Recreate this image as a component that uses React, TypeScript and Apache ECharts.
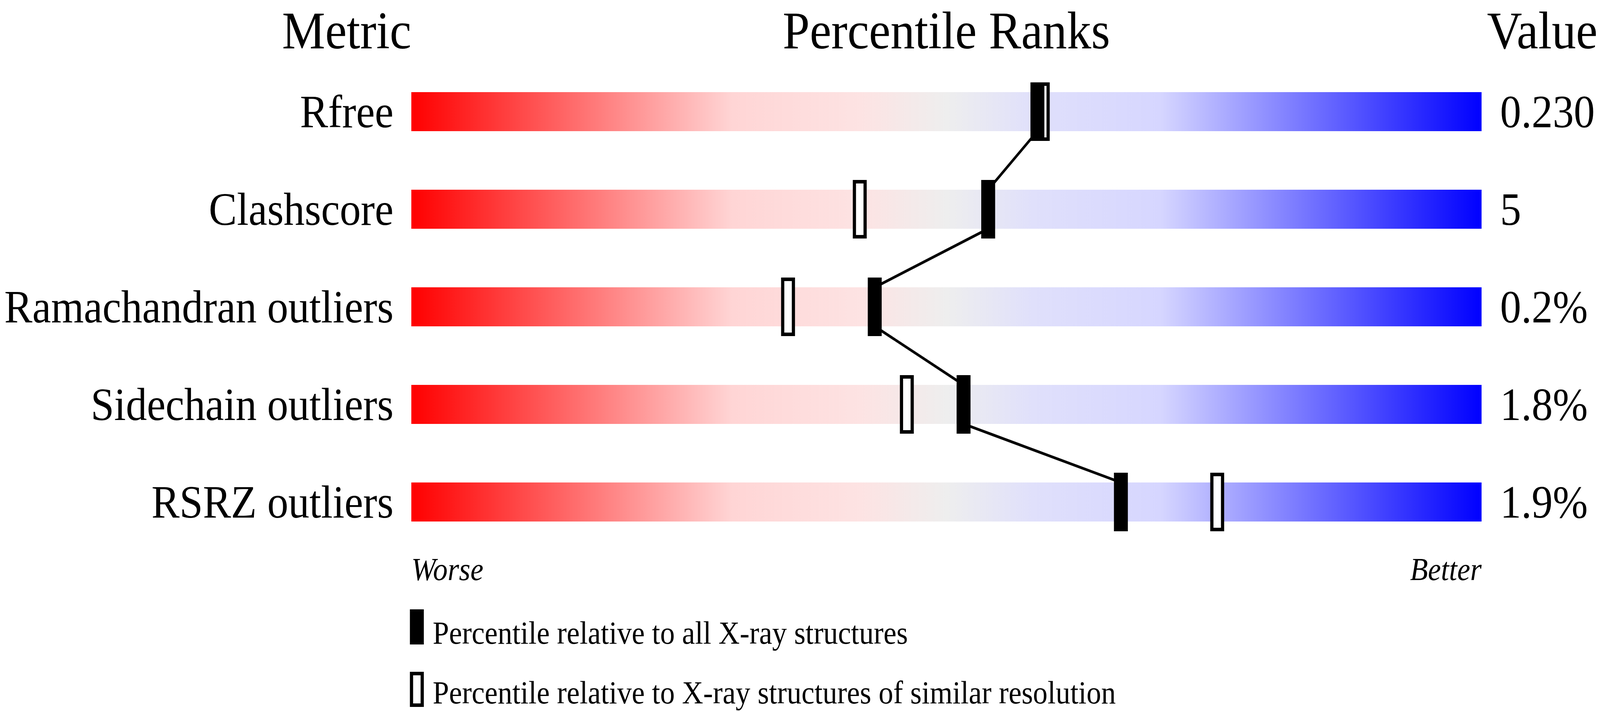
import { useEffect, useRef } from 'react';
import * as echarts from 'echarts';

const metrics = ['Rfree', 'Clashscore', 'Ramachandran outliers', 'Sidechain outliers', 'RSRZ outliers'];
const metricValues = ['0.230', '5', '0.2%', '1.8%', '1.9%'];
// percentile rank against all X-ray structures (black) and similar resolution (open)
const percentileAll = [58.5, 53.9, 43.3, 51.6, 66.3];
const percentileSimilar = [59.0, 41.9, 35.2, 46.3, 75.3];
const scaleEnds = ['Worse', 'Better'];
const headers = ['Metric', 'Percentile Ranks', 'Value'];
const legendLabels = [
    'Percentile relative to all X-ray structures',
    'Percentile relative to X-ray structures of similar resolution',
];

const FONT = '"Liberation Serif", "Times New Roman", serif';
const BASE_W = 4485;
const BASE_H = 1824;

const App = () => {
    const wrapRef = useRef<HTMLDivElement>(null);
    const chartRef = useRef<HTMLDivElement>(null);

    useEffect(() => {
        document.body.style.margin = '0';
        // the browser caps the viewport width, so squeeze the drawing to fit it
        const sx = Math.min(1, (wrapRef.current?.clientWidth || BASE_W) / BASE_W);
        if (chartRef.current) chartRef.current.style.transform = `scaleX(${sx})`;

        const myChart = echarts.init(chartRef.current, null, { renderer: 'svg' });

        const barGradient = () =>
            new echarts.graphic.LinearGradient(0, 0, 1, 0, [
                { offset: 0, color: '#ff0000' },
                { offset: 0.3, color: '#ffd5d5' },
                { offset: 0.42, color: '#fde3e3' },
                { offset: 0.5, color: '#eeeeee' },
                { offset: 0.58, color: '#e0e0fb' },
                { offset: 0.7, color: '#d6d6ff' },
                { offset: 1, color: '#0000ff' },
            ]);

        const labelStyle = {
            color: '#000',
            fontSize: 118,
            fontFamily: FONT,
            interval: 0,
            verticalAlign: 'middle',
            padding: [20, 0, 0, 0],
        };

        const headerText = (text: string, x: number, align: string) => ({
            type: 'text',
            style: {
                text, x, y: 78, fill: '#000', fontSize: 136, fontFamily: FONT,
                align, textAlign: align, verticalAlign: 'middle', textVerticalAlign: 'middle',
            },
        });

        const legendText = (text: string, y: number) => ({
            type: 'text',
            style: {
                text, x: 1213, y, fill: '#000', fontSize: 82, fontFamily: FONT,
                align: 'left', textAlign: 'left', verticalAlign: 'middle', textVerticalAlign: 'middle',
            },
        });

        myChart.setOption({
            animation: false,
            grid: { left: 1153, right: 332, top: 161, height: 1250 },
            xAxis: {
                type: 'value',
                min: 0,
                max: 100,
                interval: 100,
                splitLine: { show: false },
                axisLine: { show: false },
                axisTick: { show: false },
                axisLabel: {
                    formatter: (v: number) => (v === 0 ? scaleEnds[0] : v === 100 ? scaleEnds[1] : ''),
                    color: '#000',
                    fontSize: 82,
                    fontStyle: 'italic',
                    fontFamily: FONT,
                    alignMinLabel: 'left',
                    alignMaxLabel: 'right',
                    verticalAlign: 'middle',
                    margin: 47,
                },
            },
            yAxis: [
                {
                    type: 'category',
                    inverse: true,
                    data: metrics,
                    axisLine: { show: false },
                    axisTick: { show: false },
                    axisLabel: { ...labelStyle, margin: 50 },
                },
                {
                    type: 'category',
                    inverse: true,
                    position: 'right',
                    data: metricValues,
                    axisLine: { show: false },
                    axisTick: { show: false },
                    axisLabel: { ...labelStyle, margin: 52, padding: [22, 0, 0, 0] },
                },
            ],
            graphic: [
                headerText(headers[0], 1153, 'right'),
                headerText(headers[1], 2653, 'center'),
                headerText(headers[2], 4478, 'right'),
                {
                    type: 'rect',
                    shape: { x: 1149, y: 1561, width: 39, height: 90 },
                    style: { fill: '#000' },
                },
                legendText(legendLabels[0], 1621),
                {
                    type: 'rect',
                    shape: { x: 1153.5, y: 1725.5, width: 30, height: 81 },
                    style: { fill: '#fff', stroke: '#000', lineWidth: 9 },
                },
                legendText(legendLabels[1], 1774),
            ],
            series: [
                {
                    // gradient sliders
                    type: 'custom',
                    z: 1,
                    silent: true,
                    encode: { x: [0, 2], y: 1 },
                    data: metrics.map((_, i) => [0, i, 100]),
                    renderItem: (params: any, api: any) => {
                        const start = api.coord([api.value(0), api.value(1)]);
                        const end = api.coord([api.value(2), api.value(1)]);
                        const h = api.size([0, 1])[1] * 0.4;
                        return {
                            type: 'rect',
                            shape: { x: start[0], y: start[1] - h / 2, width: end[0] - start[0], height: h },
                            style: { fill: barGradient() },
                        };
                    },
                },
                {
                    // connecting line between black markers
                    type: 'custom',
                    z: 2,
                    silent: true,
                    encode: { x: [0, 2], y: [1, 3] },
                    data: percentileAll.slice(0, -1).map((p, i) => [p, i, percentileAll[i + 1], i + 1]),
                    renderItem: (params: any, api: any) => {
                        const a = api.coord([api.value(0), api.value(1)]);
                        const b = api.coord([api.value(2), api.value(3)]);
                        const h = api.size([0, 1])[1] * 0.2;
                        return {
                            type: 'line',
                            shape: { x1: a[0], y1: a[1] + h, x2: b[0], y2: b[1] - h },
                            style: { stroke: '#000', lineWidth: 7 },
                        };
                    },
                },
                {
                    type: 'custom',
                    z: 3,
                    silent: true,
                    encode: { x: 0, y: 1 },
                    data: percentileSimilar.map((p, i) => [p, i]),
                    renderItem: (params: any, api: any) => {
                        const c = api.coord([api.value(0), api.value(1)]);
                        return {
                            type: 'rect',
                            shape: { x: c[0] - 15, y: c[1] - 70.5, width: 30, height: 141 },
                            style: { fill: '#fff', stroke: '#000', lineWidth: 9 },
                        };
                    },
                },
                {
                    type: 'custom',
                    z: 4,
                    silent: true,
                    encode: { x: 0, y: 1 },
                    data: percentileAll.map((p, i) => [p, i]),
                    renderItem: (params: any, api: any) => {
                        const c = api.coord([api.value(0), api.value(1)]);
                        return {
                            type: 'rect',
                            shape: { x: c[0] - 19.5, y: c[1] - 75, width: 39, height: 150 },
                            style: { fill: '#000' },
                        };
                    },
                },
            ],
        });

        return () => {
            myChart.dispose();
        };
    }, []);

    return (
        <div ref={wrapRef} style={{ width: '100%', height: `${BASE_H}px`, overflow: 'hidden' }}>
            <div
                ref={chartRef}
                style={{ width: `${BASE_W}px`, height: `${BASE_H}px`, transformOrigin: '0 0' }}
            />
        </div>
    );
};

export default App;
